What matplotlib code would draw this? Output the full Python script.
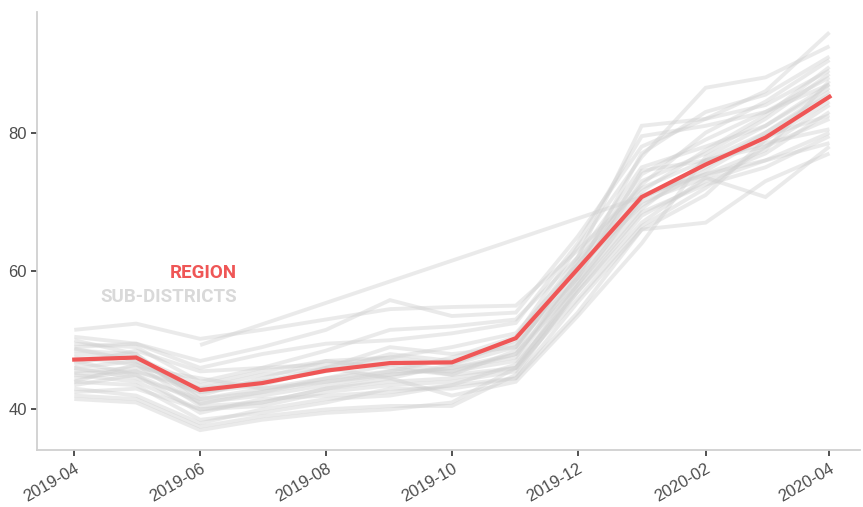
import numpy as np
import pandas as pd
import matplotlib
matplotlib.use('Agg')
import matplotlib.pyplot as plt

months = pd.date_range('2019-04-01', '2020-04-01', freq='MS')
nan = np.nan

region = [47.2, 47.5, 42.8, 43.8, 45.6, 46.7, 46.8, 50.3, 60.3, 70.7, 75.4, 79.3, 85.2]

sub_districts = [
    [51.5, 52.4, 50.2, 51.5, 53.0, 54.5, 54.8, 55.0, 63.0, 72.0, 76.0, 80.0, 86.0],
    [50.5, 49.5, 47.0, 49.0, 51.5, 55.8, 53.5, 54.0, 65.0, 78.0, 82.0, 84.0, 89.0],
    [49.5, 49.0, 44.0, 46.0, 48.5, 51.5, 52.0, 53.0, 62.0, 81.0, 82.0, 86.0, 94.5],
    [48.5, 48.0, 41.5, 43.0, 44.0, 45.0, 46.0, 48.0, 58.0, 69.0, 76.0, 78.0, 82.0],
    [47.5, 46.5, 40.5, 41.0, 43.0, 44.0, 44.5, 46.0, 56.0, 66.5, 72.0, 78.0, 84.0],
    [46.0, 47.0, 42.0, 44.5, 47.0, 47.5, 49.0, 51.0, 61.0, 74.0, 79.0, 83.0, 88.0],
    [45.0, 44.0, 40.0, 40.5, 42.5, 43.5, 44.0, 45.5, 57.0, 68.0, 73.0, 76.0, 80.0],
    [44.5, 45.5, 43.0, 44.0, 45.5, 48.0, 47.0, 49.5, 59.0, 71.0, 74.0, 77.5, 87.5],
    [44.0, 43.5, 38.5, 39.5, 41.0, 43.0, 43.0, 44.5, 54.0, 66.0, 67.0, 73.0, 77.0],
    [43.5, 45.0, 41.0, 42.0, 43.5, 45.0, 46.0, 47.5, 60.0, 77.0, 83.0, 85.5, 91.0],
    [42.0, 41.5, 37.5, 39.0, 40.0, 40.5, 40.5, 45.0, 57.5, 68.5, 72.5, 75.0, 79.5],
    [41.5, 41.0, 37.0, 38.5, 39.5, 40.0, 41.0, 46.0, 58.5, 70.0, 73.5, 77.0, 83.0],
    [46.5, 48.5, 45.5, 46.0, 46.5, 47.5, 46.5, 50.0, 62.0, 75.0, 78.0, 81.0, 86.5],
    [48.0, 47.5, 43.5, 45.5, 47.0, 46.0, 45.0, 48.5, 61.5, 72.5, 80.0, 84.5, 90.5],
    [45.5, 46.0, 44.5, 43.0, 44.5, 45.5, 47.5, 50.5, 63.5, 76.5, 86.5, 88.0, 92.5],
    [47.0, 45.0, 39.5, 41.5, 42.0, 42.5, 43.5, 44.5, 55.5, 66.0, 71.0, 79.0, 84.5],
    [50.0, 48.0, 40.8, 42.5, 44.0, 45.5, 45.5, 47.0, 59.5, 73.0, 77.0, 82.0, 88.5],
    [43.0, 42.0, 38.0, 40.0, 41.5, 42.0, 43.5, 46.5, 57.0, 67.0, 73.5, 70.7, 78.0],
    [49.0, 49.5, 46.0, 48.0, 49.5, 50.0, 51.0, 52.5, 64.0, 79.5, 81.0, 83.0, 87.0],
    [46.0, 44.5, 41.5, 42.5, 44.5, 46.5, 45.0, 46.0, 58.0, 70.5, 75.0, 80.0, 85.5],
    [44.0, 46.5, 43.0, 45.0, 46.0, 44.5, 46.5, 49.0, 60.5, 69.5, 74.5, 79.5, 82.5],
    [42.5, 43.0, 40.0, 41.0, 43.0, 44.5, 42.0, 44.0, 53.5, 64.0, 76.5, 81.0, 87.0],
    [48.8, 47.0, 42.5, 43.5, 46.0, 49.0, 48.0, 49.0, 61.0, 71.5, 77.5, 82.5, 89.5],
    [45.2, 45.5, 42.5, 44.0, 46.0, 47.0, 45.5, 48.0, 59.0, 74.5, 76.0, 78.5, 80.5],
    [nan, nan, 49.3, nan, nan, nan, nan, nan, nan, 70.7, 74.0, 76.0, 78.5],
]

tick_months = months[::2]
tick_labels = [d.strftime('%Y-%m') for d in tick_months]

plt.rcParams['font.family'] = ['Liberation Sans', 'DejaVu Sans']

fig = plt.figure(figsize=(8.63, 5.07), dpi=100)
ax = fig.add_axes([0.043, 0.112, 0.954, 0.865])

for vals in sub_districts:
    s = pd.Series(vals, index=months).dropna()
    ax.plot(s.index, s.values, color='#cfcfcf', lw=2.8, alpha=0.42,
            solid_capstyle='butt', solid_joinstyle='miter')

ax.plot(months, region, color='#ef5656', lw=3.0, solid_joinstyle='miter')

ax.text(0.243, 0.404, 'REGION', transform=ax.transAxes, ha='right', va='center',
        color='#ef5656', fontsize=13.5, fontweight='bold', family='Roboto')
ax.text(0.243, 0.35, 'SUB-DISTRICTS', transform=ax.transAxes, ha='right', va='center',
        color='#d9d9d9', fontsize=13.5, fontweight='bold', family='Roboto')

ax.set_xlim(months[0] - pd.Timedelta(days=18), months[-1] + pd.Timedelta(days=15))
ax.set_ylim(34.1, 97.5)
ax.set_xticks(tick_months)
ax.set_xticklabels(tick_labels, rotation=30, ha='right', rotation_mode='anchor')
ax.set_yticks([40, 60, 80])

for side in ['top', 'right']:
    ax.spines[side].set_visible(False)
for side in ['left', 'bottom']:
    ax.spines[side].set_color('#d0d0d0')
    ax.spines[side].set_linewidth(1.3)
ax.tick_params(colors='#333333', labelcolor='#4d4d4d', labelsize=12, length=4, width=1.2)

fig.savefig('out.png', dpi=100, facecolor='white')
